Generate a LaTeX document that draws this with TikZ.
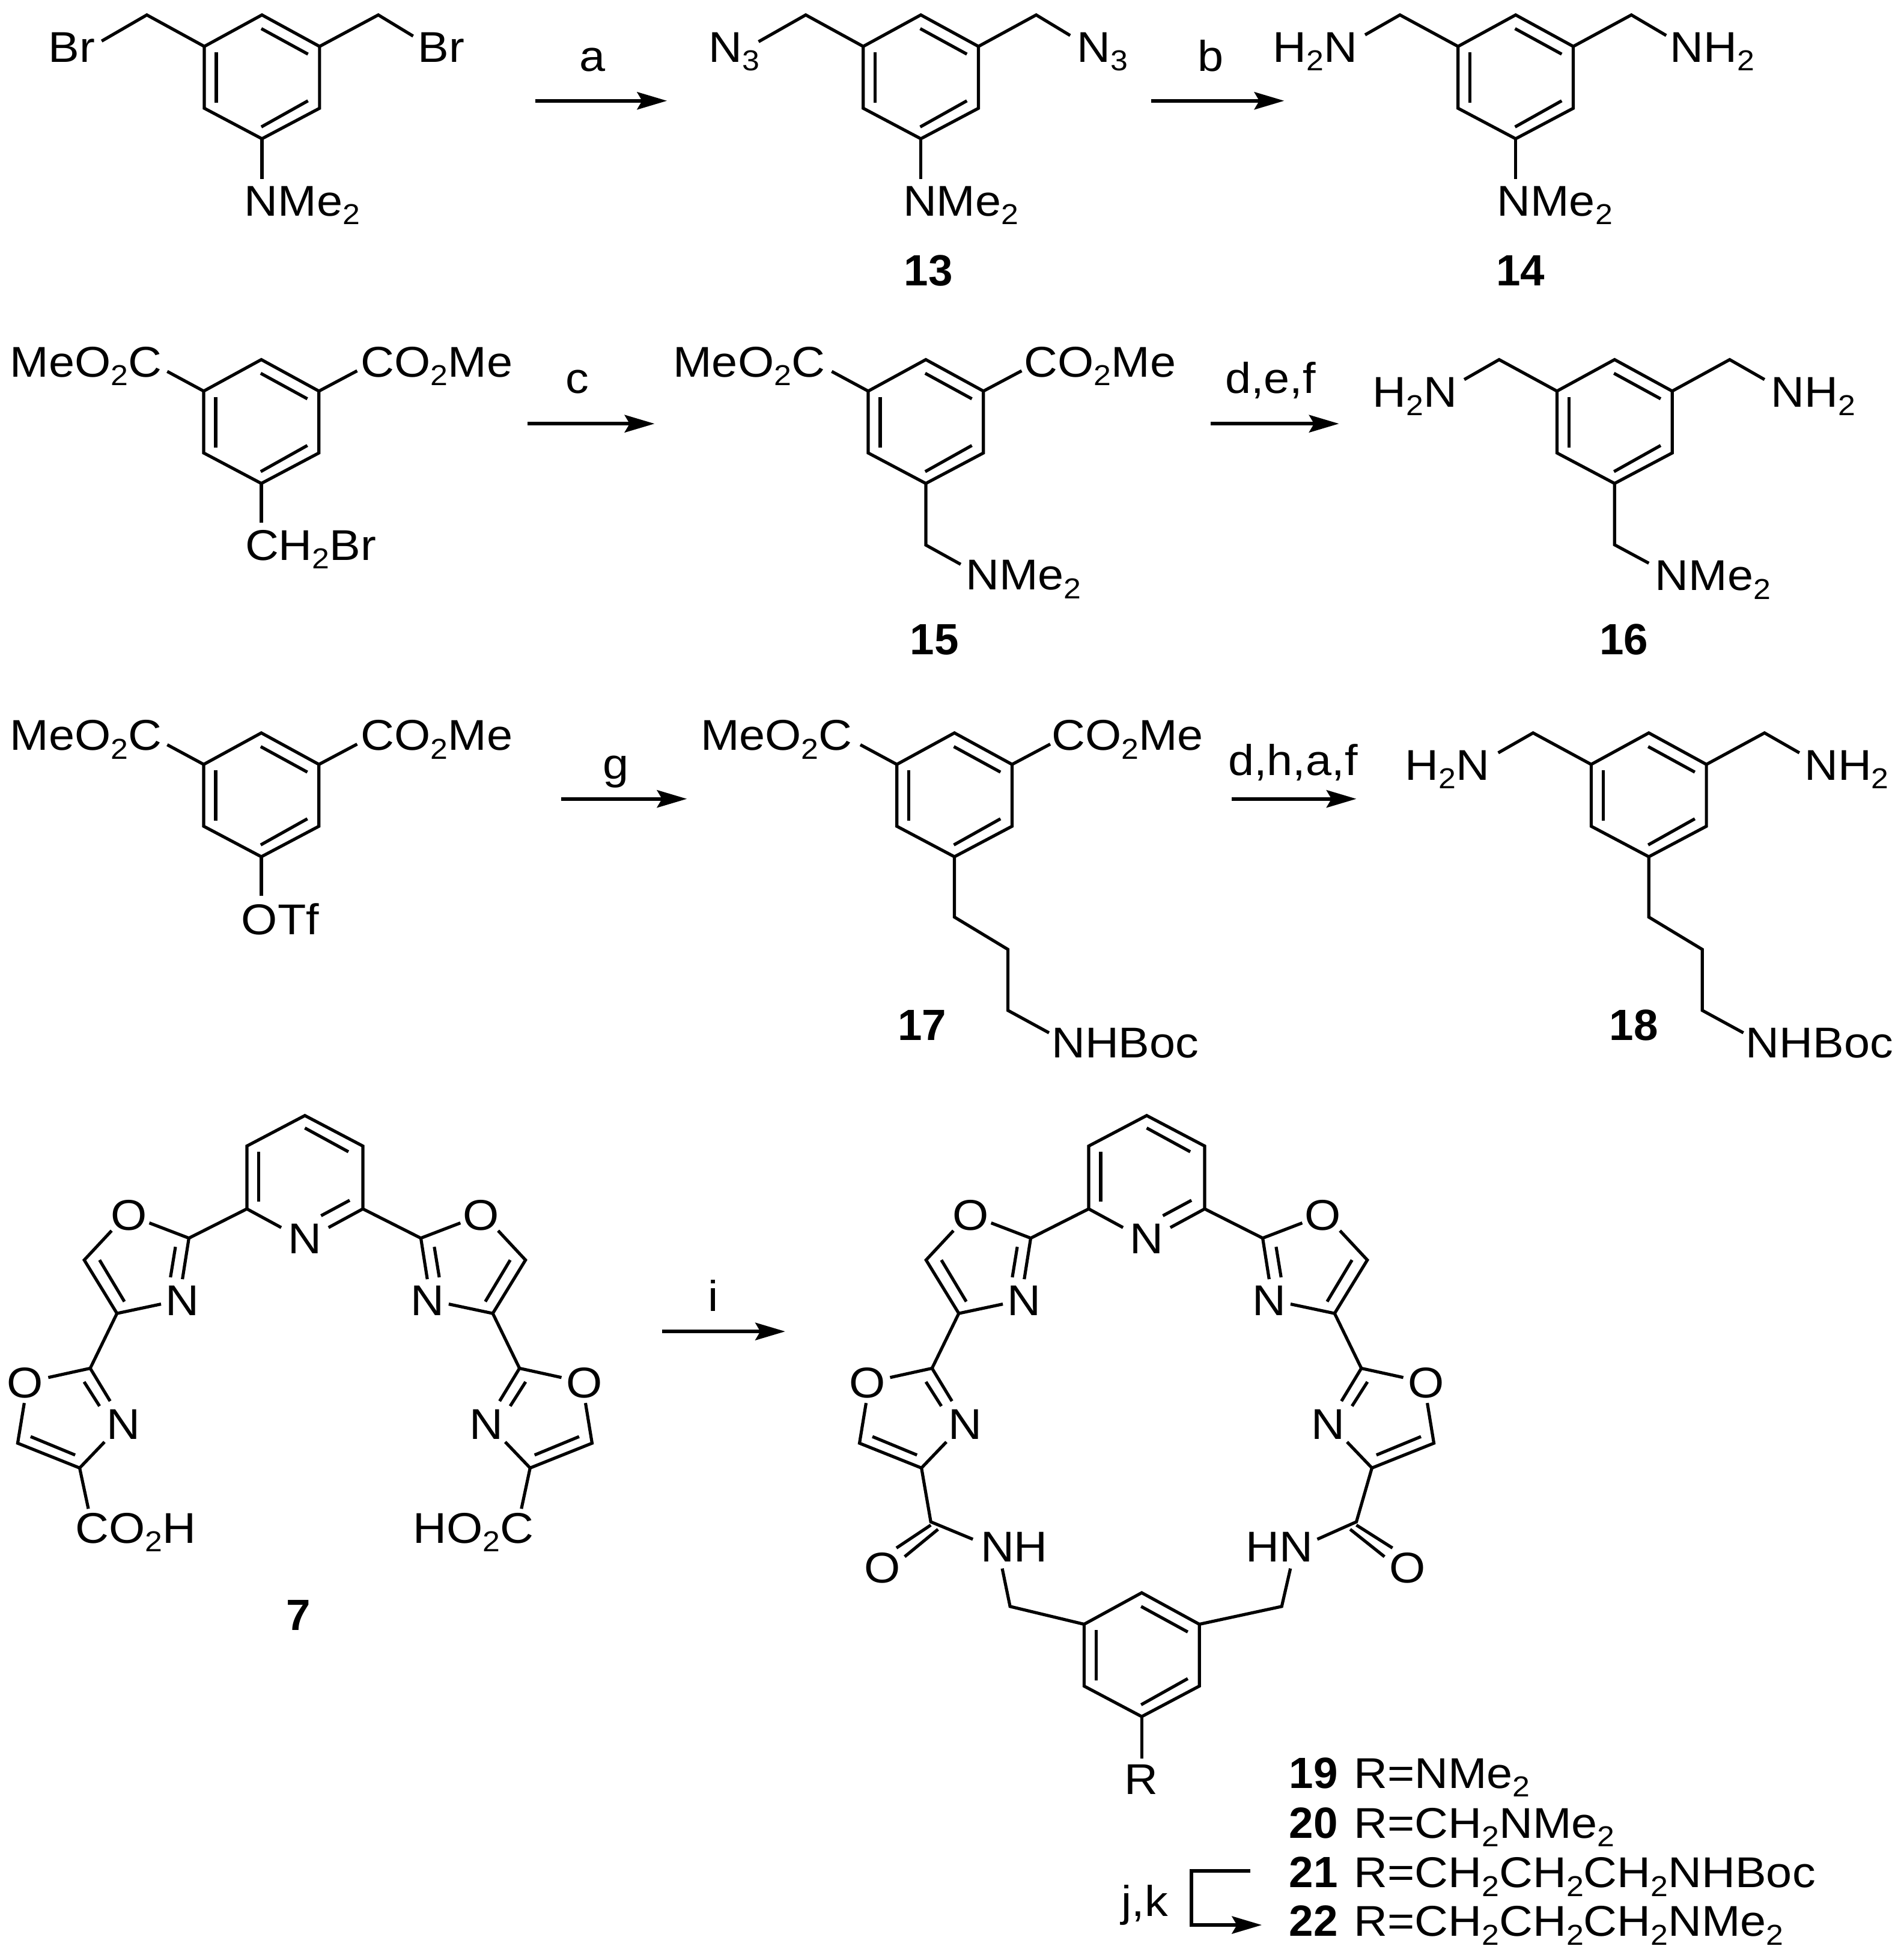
\documentclass[tikz,border=0pt]{standalone}
\usepackage{fontspec}
\setmainfont{Liberation Sans}[FakeStretch=1.08]
\newfontfamily\cpdfam{Liberation Sans}
\usetikzlibrary{arrows.meta}
\newcommand{\su}[1]{\raisebox{-.2em}{\fontsize{13.2}{14}\selectfont #1}}
\newcommand{\tw}{\su{2}}
\tikzset{
  bond/.style={line width=0.05cm,line join=miter},
  lab/.style={anchor=base west,inner sep=0pt,outer sep=0pt,font=\fontsize{19.7}{24}\selectfont},
  ctr/.style={anchor=base,inner sep=0pt,outer sep=0pt,font=\fontsize{19.7}{24}\selectfont},
  cpd/.style={anchor=base,inner sep=0pt,outer sep=0pt,font=\fontsize{20}{24}\cpdfam\bfseries},
  rxn/.style={line width=0.055cm,-{Stealth[length=0.48cm,width=0.28cm,inset=0.08cm]}}
}
% benzene ring with its top vertex at (#1,#2)
\newcommand{\bzring}[2]{%
  \begin{scope}[shift={(#1,#2)}]
    \draw[bond] (0,0)--(46.3,25.3)--(46.3,75)--(0,99.5)--(-46.3,75)--(-46.3,25.3)--cycle;
    \draw[bond] (-0.5,11)--(37,31.5);
    \draw[bond] (-36.7,30)--(-36.7,70.5);
    \draw[bond] (37,69)--(-0.5,90);
  \end{scope}}
\newcommand{\oxhalf}{%
  \draw[bond] (198.4,971.5)--(151.8,995);
  \draw[bond] (120,982.8)--(151.8,995)--(146.6,1028);
  \draw[bond] (141,1002)--(137,1026.5);
  \draw[bond] (89.7,989)--(67.7,1012.6)--(94,1055.5)--(129.4,1048);
  \draw[bond] (80,1012.6)--(100,1046);
  \draw[bond] (94,1055.5)--(72.5,1099.6);
  \draw[bond] (38.8,1107)--(72.5,1099.6)--(88.5,1126);
  \draw[bond] (67.6,1110.5)--(80,1130);
  \draw[bond] (19.5,1127.5)--(14.2,1159.8)--(64,1179.7)--(84,1158.8);
  \draw[bond] (24.6,1154.5)--(60.4,1169.3);
}
\newcommand{\oxpy}[1]{%
  \begin{scope}[shift={(#1,0)}]
    \draw[bond] (226,986.5)--(198.4,971.5)--(198.4,921)--(245,896.5)--(291.6,921)--(291.6,971.5)--(264,986.5);
    \draw[bond] (245,906.5)--(280,925.6);
    \draw[bond] (208,925.6)--(208,965.7);
    \draw[bond] (258,977)--(281,964.6);
    \oxhalf
    \begin{scope}[shift={(490,0)},xscale=-1]\oxhalf\end{scope}
  \end{scope}}
\newcommand{\oxlab}[2]{%
  \node[ctr] (#2pN) at (245+#1,1007.5) {N};
  \node[ctr] (#2oa) at (103.5+#1,988.5) {O};
  \node[ctr] (#2ob) at (386.5+#1,988.5) {O};
  \node[ctr] (#2na) at (146.6+#1,1057) {N};
  \node[ctr] (#2nb) at (343.4+#1,1057) {N};
  \node[ctr] (#2oc) at (20.3+#1,1123.5) {O};
  \node[ctr] (#2od) at (469.7+#1,1123.5) {O};
  \node[ctr] (#2nc) at (99+#1,1156.5) {N};
  \node[ctr] (#2nd) at (391+#1,1156.5) {N};
}
\newcommand{\rxnarrow}[6]{%
  \coordinate (#1s) at (#2,#4);
  \coordinate (#1e) at (#3,#4);
  \draw[rxn] (#1s) -- (#1e);
  \node[ctr] (#1l) at (#6) {#5};
}
\begin{document}
\begin{tikzpicture}[x=0.02cm,y=-0.02cm]
\useasboundingbox (0,0) rectangle (1530,1566.3);
\fill[white] (0,0) rectangle (1530,1566.3);
% ---------- row 1
\bzring{210.5}{12}
\draw[bond] (164.2,37.3)--(118,12)--(81.7,33);
\draw[bond] (256.8,37.3)--(304,12)--(332,29);
\draw[bond] (210.5,111.5)--(210.5,144);
\node[lab] (br1) at (39,50) {Br};
\node[lab] (br2) at (336,50) {Br};
\node[lab] (nm1) at (196.5,173.5) {NMe\tw};
\rxnarrow{ra}{430}{536}{81}{a}{476,57}
\bzring{740}{12}
\draw[bond] (693.7,37.3)--(647.5,12)--(609.6,33.5);
\draw[bond] (786.3,37.3)--(832.7,12)--(860,28.5);
\draw[bond] (740,111.5)--(740,144);
\node[lab] (n3a) at (569.5,50) {N\su{3}};
\node[lab] (n3b) at (865.5,50) {N\su{3}};
\node[lab] (nm2) at (725.7,173.5) {NMe\tw};
\node[cpd] (c13) at (746,229.4) {13};
\rxnarrow{rb}{925}{1032}{81}{b}{973,57}
\bzring{1218}{12}
\draw[bond] (1171.7,37.3)--(1125,12)--(1097,28);
\draw[bond] (1264.3,37.3)--(1311,12)--(1339,28.5);
\draw[bond] (1218,111.5)--(1218,144);
\node[lab] (h2a) at (1023,50) {H\tw N};
\node[lab] (h2b) at (1342,50) {NH\tw};
\node[lab] (nm3) at (1203,173.5) {NMe\tw};
\node[cpd] (c14) at (1222,229.4) {14};
% ---------- row 2
\bzring{210}{289}
\draw[bond] (163.7,314.3)--(134.4,298.5);
\draw[bond] (256.3,314.3)--(287,298);
\draw[bond] (210,388.5)--(210,420);
\node[lab] (m1) at (8,303) {MeO\tw C};
\node[lab] (m2) at (290,303) {CO\tw Me};
\node[lab] (cb) at (197,450.3) {CH\tw Br};
\rxnarrow{rc}{424}{526}{340.5}{c}{464,316}
\bzring{744}{289}
\draw[bond] (697.7,314.3)--(668.4,298.5);
\draw[bond] (790.3,314.3)--(821,298);
\draw[bond] (744,388.5)--(744,438)--(772,453.5);
\node[lab] (m3) at (541,303) {MeO\tw C};
\node[lab] (m4) at (823,303) {CO\tw Me};
\node[lab] (nm4) at (776,474) {NMe\tw};
\node[cpd] (c15) at (751,526) {15};
\rxnarrow{rd}{973}{1076}{340.5}{d,e,f}{1021,316}
\bzring{1297.5}{289}
\draw[bond] (1251.2,314.3)--(1204.7,289)--(1176.7,305);
\draw[bond] (1343.8,314.3)--(1390,289)--(1418,305);
\draw[bond] (1297.5,388.5)--(1297.5,437.8)--(1325,452.6);
\node[lab] (h2c) at (1103,327) {H\tw N};
\node[lab] (h2d) at (1423,327) {NH\tw};
\node[lab] (nm5) at (1330,474.5) {NMe\tw};
\node[cpd] (c16) at (1305,526) {16};
% ---------- row 3
\bzring{210}{589}
\draw[bond] (163.7,614.3)--(134.4,598.5);
\draw[bond] (256.3,614.3)--(287,598);
\draw[bond] (210,688.5)--(210,720);
\node[lab] (m5) at (8,603) {MeO\tw C};
\node[lab] (m6) at (290,603) {CO\tw Me};
\node[lab] (otf) at (194,751) {OTf};
\rxnarrow{rg}{451}{552}{642}{g}{495,626}
\bzring{767}{589}
\draw[bond] (720.7,614.3)--(691.4,598.5);
\draw[bond] (813.3,614.3)--(844,598);
\draw[bond] (767,688.5)--(767,737)--(810,763)--(810,812)--(843,830);
\node[lab] (m7) at (563,603) {MeO\tw C};
\node[lab] (m8) at (845,603) {CO\tw Me};
\node[lab] (nb1) at (845,850) {NHBoc};
\node[cpd] (c17) at (741,836) {17};
\rxnarrow{rh}{990}{1090}{642}{d,h,a,f}{1039,623}
\bzring{1325}{589}
\draw[bond] (1278.7,614.3)--(1232,589)--(1204,605);
\draw[bond] (1371.3,614.3)--(1418,589)--(1446,605);
\draw[bond] (1325,688.5)--(1325,737)--(1368,763)--(1368,812)--(1401,830);
\node[lab] (h2e) at (1129,627) {H\tw N};
\node[lab] (h2f) at (1450,627) {NH\tw};
\node[lab] (nb2) at (1403,850) {NHBoc};
\node[cpd] (c18) at (1313,836) {18};
% ---------- row 4: compound 7
\oxpy{0}
\oxlab{0}{s}
\draw[bond] (64,1179.7)--(71,1212.5);
\draw[bond] (426,1179.7)--(419,1212.5);
\node[lab] (co1) at (60.7,1240) {CO\tw H};
\node[lab] (co2) at (332,1240) {HO\tw C};
\node[cpd] (c7) at (240,1310) {7};
\rxnarrow{ri}{532}{631}{1070}{i}{573,1054}
% ---------- macrocycle
\oxpy{676.5}
\oxlab{676.5}{t}
\draw[bond] (740.5,1179.7)--(748,1223)--(781.8,1237);
\draw[bond] (748,1225.6)--(720.4,1244);
\draw[bond] (753.8,1229)--(727,1251);
\draw[bond] (1102.5,1179.7)--(1090,1223)--(1058.6,1237);
\draw[bond] (1090,1225.6)--(1119,1244);
\draw[bond] (1085,1229)--(1112.6,1251);
\node[ctr] (o1) at (709,1272) {O};
\node[ctr] (o2) at (1131,1272) {O};
\node[lab] (nh) at (788,1255) {NH};
\node[lab] (hn) at (1001,1255) {HN};
\draw[bond] (805.4,1260.5)--(811.7,1291)--(871.2,1305.3);
\draw[bond] (1037,1260.5)--(1030,1291)--(963.8,1305.3);
\bzring{917.5}{1280}
\draw[bond] (917.5,1379.5)--(917.5,1413);
\node[ctr] (rr) at (917,1442) {R};
\foreach \nm/\yy/\num/\txt in {
  l19/1437/19/{R=NMe\tw},
  l20/1477/20/{R=CH\tw NMe\tw},
  l21/1517/21/{R=CH\tw CH\tw CH\tw NHBoc},
  l22/1556/22/{R=CH\tw CH\tw CH\tw NMe\tw}}{
  \node[cpd,anchor=base west] (\nm a) at (1036,\yy) {\num};
  \node[lab] (\nm b) at (1088,\yy) {\txt};
}
\coordinate (js) at (1005,1503.6);
\coordinate (jm) at (957.5,1547);
\coordinate (je) at (1014,1547);
\draw[rxn] (js) -| (jm) -- (je);
\node[ctr] (jk) at (920,1540) {j,k};
\end{tikzpicture}
\end{document}
